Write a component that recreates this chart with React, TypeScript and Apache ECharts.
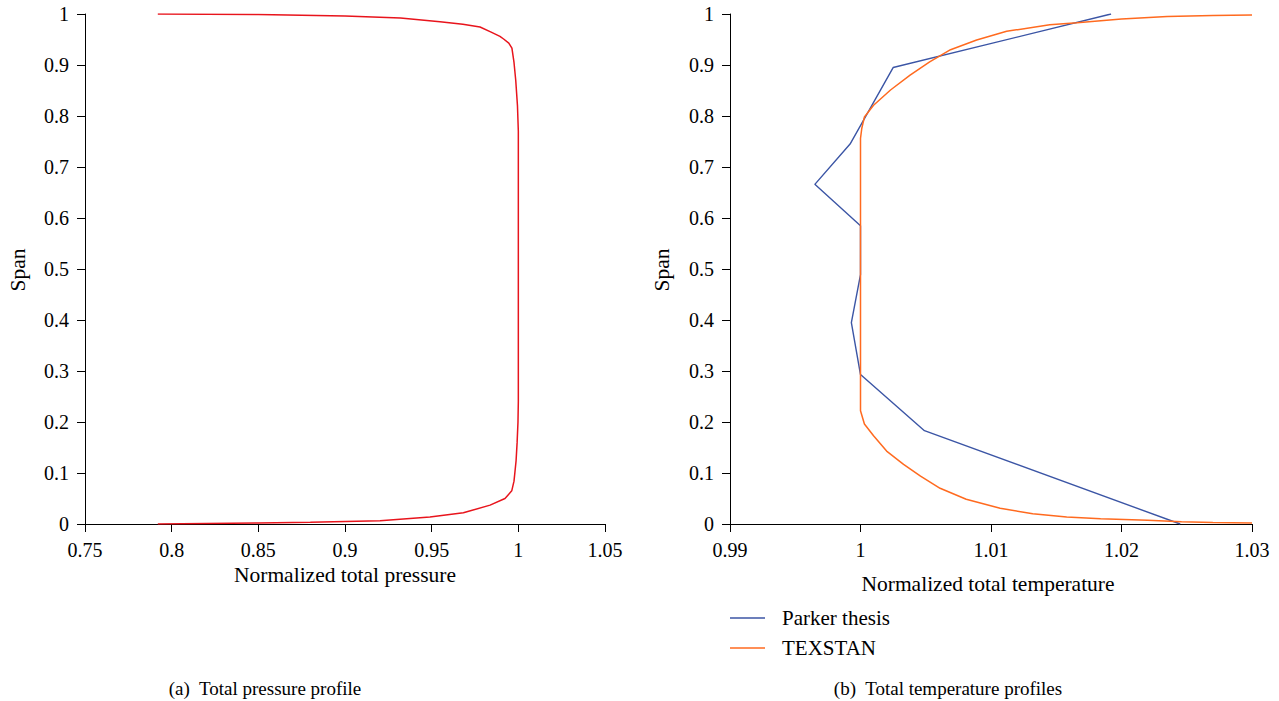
import React, { useEffect, useRef } from "react";
import * as echarts from "echarts";

const pressureX = [0.792, 0.82, 0.85, 0.88, 0.9202, 0.949, 0.9683, 0.9837, 0.9923, 0.9962, 0.9975, 0.9981, 0.9987, 0.9993, 0.9998, 1.0, 1.0, 1.0, 0.9995, 0.9985, 0.9975, 0.9963, 0.9945, 0.9915, 0.9894, 0.984, 0.9779, 0.968, 0.9548, 0.932, 0.9, 0.85, 0.792];
const pressureSpan = [0.0, 0.001, 0.002, 0.0035, 0.0065, 0.0138, 0.022, 0.037, 0.05, 0.065, 0.084, 0.104, 0.124, 0.16, 0.2, 0.24, 0.5, 0.77, 0.82, 0.87, 0.905, 0.933, 0.943, 0.951, 0.956, 0.965, 0.9745, 0.98, 0.985, 0.992, 0.996, 0.999, 1.0];

const parkerX = [1.0245, 1.0049, 1.0, 0.9993, 1.0, 1.0, 0.9965, 0.9992, 1.0025, 1.0192];
const parkerSpan = [0.0, 0.183, 0.293, 0.395, 0.489, 0.585, 0.666, 0.745, 0.895, 1.0];

const texstanX = [1.03, 1.027, 1.0246, 1.022, 1.0184, 1.0158, 1.0132, 1.0107, 1.0081, 1.0061, 1.0046, 1.0033, 1.002, 1.001, 1.0003, 1.0, 1.0, 1.0, 1.0, 1.0001, 1.0003, 1.001, 1.0023, 1.0038, 1.0053, 1.0069, 1.0089, 1.0112, 1.0145, 1.0166, 1.02, 1.0235, 1.027, 1.03];
const texstanSpan = [0.002, 0.003, 0.0046, 0.0075, 0.0105, 0.0138, 0.0203, 0.0308, 0.0485, 0.07, 0.094, 0.117, 0.143, 0.173, 0.196, 0.222, 0.242, 0.5, 0.756, 0.776, 0.798, 0.821, 0.851, 0.88, 0.906, 0.93, 0.949, 0.966, 0.979, 0.983, 0.99, 0.995, 0.997, 0.998];

const pressureTicks = { min: 0.75, max: 1.05, interval: 0.05 };
const temperatureTicks = { min: 0.99, max: 1.03, interval: 0.01 };
const spanTicks = { min: 0, max: 1, interval: 0.1 };

const FONT = "Liberation Serif";

const zip = (xs: number[], ys: number[]) => xs.map((x, i) => [x, ys[i]]);

const axisCommon = {
  axisLine: { show: true, lineStyle: { color: "#000", width: 1 } },
  axisTick: { show: true, inside: false, length: 8, lineStyle: { color: "#000" } },
  axisLabel: { color: "#000", fontFamily: FONT, fontSize: 20, margin: 16 },
  splitLine: { show: false },
};

const textStyle = (size: number) => ({ fontFamily: FONT, fontSize: size, fill: "#000", align: "center", verticalAlign: "middle" });

export default function App() {
  const ref = useRef<HTMLDivElement>(null);
  useEffect(() => {
    if (!ref.current) return;
    const chart = echarts.init(ref.current, null, { renderer: "svg" });
    chart.setOption({
      animation: false,
      backgroundColor: "#fff",
      grid: [
        { left: 85, top: 14, width: 520, height: 510 },
        { left: 730, top: 14, width: 522, height: 510 },
      ],
      xAxis: [
        { type: "value", gridIndex: 0, ...pressureTicks, ...axisCommon },
        { type: "value", gridIndex: 1, ...temperatureTicks, ...axisCommon },
      ],
      yAxis: [
        { type: "value", gridIndex: 0, ...spanTicks, ...axisCommon },
        { type: "value", gridIndex: 1, ...spanTicks, ...axisCommon },
      ],
      legend: {
        orient: "vertical",
        left: 730,
        top: 606,
        padding: 0,
        icon: "rect",
        itemWidth: 35,
        itemHeight: 1.5,
        itemGap: 6,
        data: ["Parker thesis", "TEXSTAN"],
        textStyle: { fontFamily: FONT, fontSize: 21, color: "#000", padding: [0, 0, 0, 12], lineHeight: 24 },
      },
      series: [
        {
          type: "line",
          name: "Total pressure",
          xAxisIndex: 0,
          yAxisIndex: 0,
          data: zip(pressureX, pressureSpan),
          symbol: "none",
          lineStyle: { color: "#e8141c", width: 1.5 },
        },
        {
          type: "line",
          name: "Parker thesis",
          xAxisIndex: 1,
          yAxisIndex: 1,
          data: zip(parkerX, parkerSpan),
          symbol: "none",
          itemStyle: { color: "#3b55a5" },
          lineStyle: { color: "#3b55a5", width: 1.4 },
        },
        {
          type: "line",
          name: "TEXSTAN",
          xAxisIndex: 1,
          yAxisIndex: 1,
          data: zip(texstanX, texstanSpan),
          symbol: "none",
          itemStyle: { color: "#ff6a1f" },
          lineStyle: { color: "#ff6a1f", width: 1.5 },
        },
      ],
      graphic: [
        { type: "text", x: 345, y: 575, style: { text: "Normalized total pressure", ...textStyle(21.5) } },
        { type: "text", x: 988, y: 584, style: { text: "Normalized total temperature", ...textStyle(21.5) } },
        { type: "text", x: 18, y: 270, rotation: Math.PI / 2, style: { text: "Span", ...textStyle(21.5) } },
        { type: "text", x: 662, y: 270, rotation: Math.PI / 2, style: { text: "Span", ...textStyle(21.5) } },
        { type: "text", x: 265, y: 688, style: { text: "(a)  Total pressure profile", ...textStyle(19) } },
        { type: "text", x: 948, y: 688, style: { text: "(b)  Total temperature profiles", ...textStyle(19) } },
      ],
    });
    return () => chart.dispose();
  }, []);
  return <div ref={ref} style={{ position: "fixed", left: 0, top: 0, width: 1279, height: 701 }} />;
}
